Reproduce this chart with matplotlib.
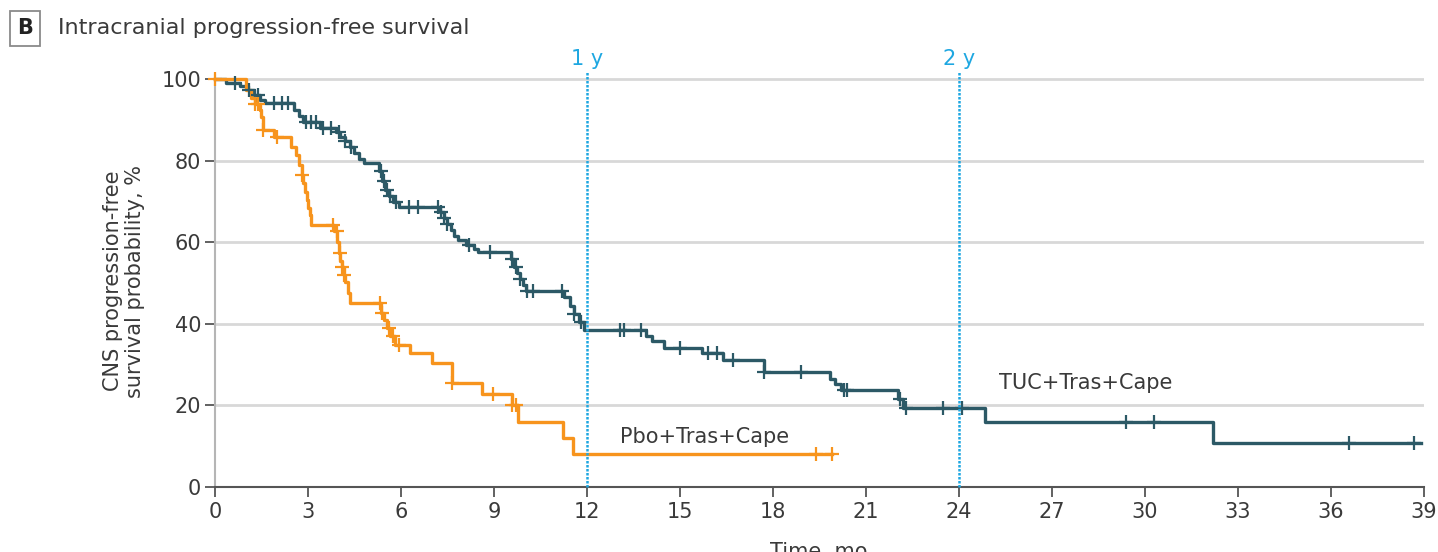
import numpy as np
import matplotlib
matplotlib.use("Agg")
import matplotlib.pyplot as plt

# Kaplan-Meier steps: event times (months) and survival (%) after each step
tuc_t = [0, 0.35, 0.8, 1.05, 1.25, 1.45, 1.6, 2.55, 2.7, 2.85, 3.4, 3.9, 4.05, 4.2,
         4.35, 4.5, 4.65, 4.8, 5.3, 5.4, 5.5, 5.6, 5.75, 5.95, 7.25, 7.4, 7.5, 7.6,
         7.7, 7.85, 8.1, 8.35, 8.5, 9.55, 9.65, 9.75, 9.85, 9.95, 10.05, 11.25,
         11.45, 11.6, 11.75, 11.9, 13.9, 14.1, 14.5, 15.7, 16.4, 17.7, 19.85, 20.0,
         20.2, 22.05, 22.2, 24.85, 32.2, 38.9]
tuc_s = [100, 99.2, 98.5, 97.5, 96.3, 95.0, 94.2, 92.5, 91.0, 89.6, 88.0, 87.0, 86.0,
         85.0, 83.5, 82.0, 80.5, 79.6, 77.5, 75.0, 73.0, 71.5, 70.0, 68.7, 67.5, 66.0,
         64.5, 63.0, 61.5, 60.5, 59.5, 58.5, 57.7, 56.0, 54.0, 52.5, 51.0, 49.5, 48.0,
         46.5, 44.5, 42.5, 40.5, 38.5, 37.0, 35.8, 34.2, 33.0, 31.2, 28.2, 26.5, 25.3,
         23.8, 21.5, 19.4, 16.0, 10.8, 10.8]
tuc_cens = [0.65, 1.1, 1.4, 1.9, 2.15, 2.35, 2.95, 3.1, 3.25, 3.5, 3.75, 4.0, 4.2, 4.4,
            5.35, 5.45, 5.55, 5.65, 5.85, 6.25, 6.55, 7.2, 7.3, 7.4, 7.5, 8.2, 8.87,
            9.6, 9.7, 9.85, 10.06, 10.26, 11.2, 11.6, 11.8, 13.06, 13.2, 13.75, 15.0,
            15.9, 16.2, 16.7, 17.7, 18.9, 20.3, 20.4, 22.1, 22.3, 23.5, 24.1, 29.4,
            30.3, 36.6, 38.7]

pbo_t = [0, 1.0, 1.15, 1.3, 1.45, 1.5, 1.55, 1.9, 2.45, 2.6, 2.7, 2.8, 2.85, 2.9,
         2.97, 3.0, 3.05, 3.1, 3.85, 3.95, 4.0, 4.05, 4.1, 4.15, 4.2, 4.3, 4.35, 5.35,
         5.45, 5.55, 5.65, 5.8, 6.3, 7.0, 7.65, 8.6, 9.6, 9.77, 11.23, 11.55, 19.9]
pbo_s = [100, 97.5, 95.5, 94.0, 92.5, 90.8, 87.6, 85.9, 83.4, 81.4, 79.0, 76.6, 74.5,
         72.5, 70.4, 68.5, 66.7, 64.3, 62.8, 60.0, 57.4, 55.5, 54.0, 52.0, 50.3, 47.5,
         45.2, 42.7, 41.0, 39.0, 37.0, 34.8, 32.9, 30.4, 25.5, 22.8, 20.1, 16.0, 12.0,
         8.1, 8.1]
pbo_cens = [0.0, 1.3, 1.4, 1.55, 2.0, 2.8, 3.8, 3.93, 4.03, 4.1, 4.16, 5.32, 5.4, 5.6,
            5.75, 5.95, 7.65, 8.97, 9.6, 9.7, 19.4, 19.9]

arm_labels = ["TUC+Tras+Cape", "Pbo+Tras+Cape"]
x_ticks = list(range(0, 40, 3))
y_ticks = list(range(0, 101, 20))
landmarks = [(12, "1 y"), (24, "2 y")]

TEAL = "#2c5966"
ORANGE = "#f7941d"
BLUE = "#1ea7e1"
TXT = "#3a3a3a"

fig = plt.figure(figsize=(14.38, 5.52), dpi=100)
ax = fig.add_axes([0.1495, 0.1178, 0.8405, 0.7456])


def surv_at(times, surv, x):
    i = np.searchsorted(times, x, side="right") - 1
    return np.asarray(surv)[i]


for t, s, c, col in [(tuc_t, tuc_s, tuc_cens, TEAL), (pbo_t, pbo_s, pbo_cens, ORANGE)]:
    ax.step(t, s, where="post", color=col, lw=2.4, clip_on=False, zorder=4)
    ax.plot(c, surv_at(t, s, c), ls="none", marker="+", ms=10, mew=1.6,
            color=col, clip_on=False, zorder=5)

for x, lab in landmarks:
    ax.plot([x, x], [0, 102], color=BLUE, lw=1.8, ls=(0, (1, 0.6)), clip_on=False, zorder=6)
    ax.text(x, 102.6, lab, color=BLUE, fontsize=15, ha="center", va="bottom")

ax.text(15.8, 12.3, arm_labels[1], color=TXT, fontsize=15, ha="center", va="center")
ax.text(28.1, 25.5, arm_labels[0], color=TXT, fontsize=15, ha="center", va="center")

ax.set_xlim(0, 39)
ax.set_ylim(0, 101)
ax.set_xticks(x_ticks)
ax.set_yticks(y_ticks)
ax.yaxis.grid(True, color="#d8d8d8", lw=2)
ax.set_axisbelow(True)
for s in ["top", "right"]:
    ax.spines[s].set_visible(False)
ax.spines["left"].set_color("#b5b5b5")
ax.spines["left"].set_linewidth(1.5)
ax.spines["bottom"].set_color("#555555")
ax.spines["bottom"].set_linewidth(1.5)
ax.tick_params(axis="both", labelsize=15, colors="#555555", labelcolor=TXT,
               length=7, width=1.3)
ax.tick_params(axis="x", pad=4)
ax.tick_params(axis="y", pad=3)
ax.set_ylabel("CNS progression-free\nsurvival probability, %", fontsize=15,
              color=TXT, labelpad=12, linespacing=1.1)
# axis title sits at the lower edge of the canvas
fig.text(0.5695, 0.0, "Time, mo", fontsize=15, color=TXT, ha="center", va="center")

fig.text(0.0175, 0.9485, "B", fontsize=15, fontweight="bold", color="#222222",
         ha="center", va="center",
         bbox=dict(boxstyle="square,pad=0.35", fc="white", ec="#8a8a8a", lw=1.3))
fig.text(0.040, 0.9485, "Intracranial progression-free survival", fontsize=16,
         color=TXT, ha="left", va="center")

fig.savefig("out.png", dpi=100, facecolor="white")
